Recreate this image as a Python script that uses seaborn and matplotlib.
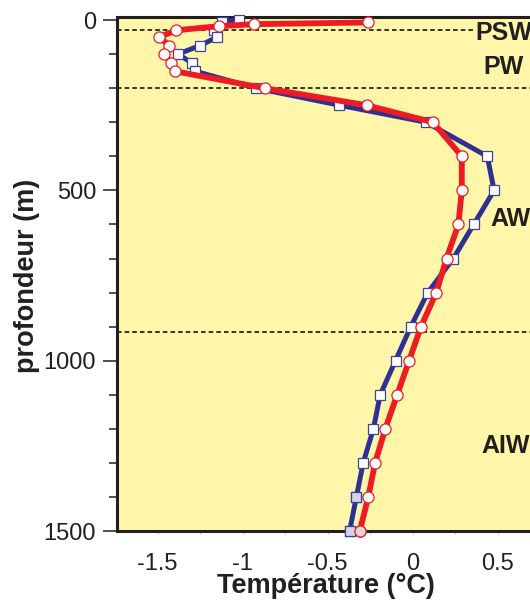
import matplotlib
matplotlib.use("Agg")
import matplotlib.pyplot as plt
from matplotlib.ticker import MultipleLocator
import numpy as np
import pandas as pd
import seaborn as sns

# Temperature profiles (°C) against depth (m)
depth_a = [0, 5, 30, 50, 75, 100, 125, 150, 200, 250, 300, 400, 500, 600,
           700, 800, 900, 1000, 1100, 1200, 1300, 1400, 1500]
temp_a = [-1.02, -1.12, -1.17, -1.15, -1.25, -1.38, -1.30, -1.28, -0.92, -0.43,
          0.08, 0.44, 0.48, 0.36, 0.24, 0.09, -0.01, -0.10, -0.19, -0.23,
          -0.29, -0.33, -0.37]

depth_b = [7, 12, 18, 30, 50, 75, 100, 125, 150, 200, 250, 300, 400, 500,
           600, 700, 800, 900, 1000, 1100, 1200, 1300, 1400, 1500]
temp_b = [-0.26, -0.93, -1.14, -1.39, -1.49, -1.43, -1.46, -1.42, -1.40, -0.87,
          -0.27, 0.12, 0.29, 0.29, 0.27, 0.20, 0.14, 0.05, -0.02, -0.09,
          -0.16, -0.22, -0.26, -0.31]

# Deepest samples drawn with a grey fill
grey_a = [1400, 1500]
grey_b = [1500]

# Water-mass boundaries (m) and labels
boundaries = [30, 200, 915]
water_masses = ["PSW", "PW", "AW", "AIW"]
label_depths = [38, 137, 583, 1250]

x_ticks = [-1.5, -1, -0.5, 0, 0.5]
y_ticks = [0, 500, 1000, 1500]

BLUE = "#2e3192"
RED = "#ed1c24"
INK = "#231f20"

sns.set_style("ticks")
plt.rcParams["font.family"] = ["Liberation Sans", "DejaVu Sans"]
plt.rcParams["axes.unicode_minus"] = False

df_a = pd.DataFrame({"T": temp_a, "z": depth_a})
df_b = pd.DataFrame({"T": temp_b, "z": depth_b})

fig = plt.figure(figsize=(5.3, 6.05), dpi=100)
W, H = 530, 605
ax_left, ax_right, ax_top, ax_bottom = 117, 560, 17, 531
ax = fig.add_axes([ax_left / W, 1 - ax_bottom / H,
                   (ax_right - ax_left) / W, (ax_bottom - ax_top) / H])
ax.set_facecolor("#fff6a9")

# x scale: 170 px per °C, 0 °C at x = 412.5 px
px_per_deg, x0 = 170.0, 412.5
ax.set_xlim((ax_left - x0) / px_per_deg, (ax_right - x0) / px_per_deg)
ax.set_ylim(1500, -9)

# dashed boundaries
ax.plot([(ax_left - x0) / px_per_deg, (473 - x0) / px_per_deg],
        [boundaries[0]] * 2, color="black", lw=1.1, ls=(0, (3, 2)), zorder=1)
for b in boundaries[1:]:
    ax.axhline(b, color="black", lw=1.1, ls=(0, (3, 2)), zorder=1)

sns.lineplot(data=df_a, x="T", y="z", orient="y", sort=False, estimator=None,
             color=BLUE, lw=3.6, marker="s", markersize=7.5,
             markerfacecolor="white", markeredgecolor="#3a43a0",
             markeredgewidth=0.9, ax=ax, zorder=3)
sns.lineplot(data=df_b, x="T", y="z", orient="y", sort=False, estimator=None,
             color=RED, lw=4.2, marker="o", markersize=8,
             markerfacecolor="white", markeredgecolor=RED,
             markeredgewidth=0.9, ax=ax, zorder=4)

ga = df_a[df_a["z"].isin(grey_a)]
gb = df_b[df_b["z"].isin(grey_b)]
sns.scatterplot(data=ga, x="T", y="z", marker="s", s=58, color="#d3d6e2",
                edgecolor="#3a43a0", linewidth=0.9, ax=ax, zorder=5, clip_on=False)
sns.scatterplot(data=gb, x="T", y="z", marker="o", s=64, color="#d9d9d9",
                edgecolor=RED, linewidth=0.9, ax=ax, zorder=6, clip_on=False)
for line in ax.lines:
    line.set_clip_on(False)

# water-mass names
label_x = [475, 483, 490, 481]
for name, z, xp in zip(water_masses, label_depths, label_x):
    ax.text((xp - x0) / px_per_deg, z, name, fontsize=18, fontweight="bold",
            color=INK, ha="left", va="center", zorder=7)

# axes styling
for side in ("left", "top", "bottom"):
    ax.spines[side].set_linewidth(2.2)
    ax.spines[side].set_color("#231f20")
ax.spines["right"].set_visible(False)

ax.set_yticks(y_ticks)
ax.yaxis.set_minor_locator(MultipleLocator(100))
ax.tick_params(axis="y", which="major", length=10, width=1.1, pad=5,
               labelsize=17, colors=INK, direction="out")
ax.tick_params(axis="y", which="minor", length=6, width=1.1,
               colors=INK, direction="out")

ax.set_xticks(x_ticks)
ax.set_xticklabels([f"{v:g}" for v in x_ticks])
ax.xaxis.set_minor_locator(MultipleLocator(0.25))
ax.tick_params(axis="x", which="major", length=2, width=0.8, pad=14,
               labelsize=17, color="#c8c8c8", labelcolor=INK, direction="out")
ax.tick_params(axis="x", which="minor", length=2, width=0.8,
               color="#c8c8c8", direction="out")

ax.set_xlabel("")
ax.set_ylabel("")
fig.text(326 / W, 1 - 593 / H, "Température (°C)", fontsize=19.5,
         fontweight="bold", color=INK, ha="center", va="baseline")
fig.text(27 / W, 1 - 276 / H, "profondeur (m)", fontsize=19.5,
         fontweight="bold", color=INK, ha="center", va="center", rotation=90)

fig.savefig("out.png", dpi=100)
